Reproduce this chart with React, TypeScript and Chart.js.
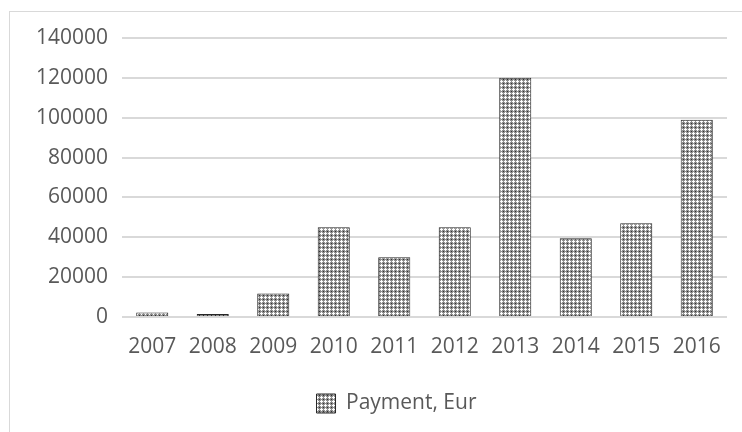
import React, { useEffect, useRef } from "react";
import { Chart, registerables } from "chart.js";

Chart.register(...registerables);

const years = ["2007", "2008", "2009", "2010", "2011", "2012", "2013", "2014", "2015", "2016"];
const payments = [2200, 1500, 11800, 45000, 30000, 45000, 120000, 39500, 47000, 99000];
const seriesLabel = "Payment, Eur";
const yTicks = [0, 20000, 40000, 60000, 80000, 100000, 120000, 140000];

function makePattern(): CanvasPattern | string {
  const c = document.createElement("canvas");
  c.width = 4;
  c.height = 4;
  const g = c.getContext("2d");
  if (!g) return "#999";
  g.fillStyle = "#8e8e8e";
  g.fillRect(0, 0, 4, 4);
  g.fillStyle = "#ffffff";
  g.fillRect(1, 0, 1, 3);
  g.fillRect(0, 1, 3, 1);
  g.fillStyle = "#303030";
  g.fillRect(3, 3, 1, 1);
  const p = g.createPattern(c, "repeat");
  return p || "#999";
}

const shiftLegend = {
  id: "shiftLegend",
  afterLayout(chart: any) {
    const l = chart.legend;
    if (l) {
      l.left += 33;
      l.right += 33;
    }
  },
};

export default function App() {
  const ref = useRef<HTMLCanvasElement | null>(null);
  useEffect(() => {
    document.body.style.margin = "0";
    const canvas = ref.current;
    if (!canvas) return;
    const pattern = makePattern();
    const font = { family: "'Open Sans', sans-serif", size: 21 };
    const chart = new Chart(canvas, {
      type: "bar",
      data: {
        labels: years,
        datasets: [
          {
            label: seriesLabel,
            data: payments,
            backgroundColor: pattern as any,
            borderColor: "#262626",
            borderWidth: 1,
            categoryPercentage: 1,
            barPercentage: 0.53,
          },
        ],
      },
      plugins: [shiftLegend],
      options: {
        animation: false,
        responsive: false,
        maintainAspectRatio: false,
        layout: { padding: { left: 0, right: 15, top: 38, bottom: 8 } },
        plugins: {
          tooltip: { enabled: false },
          legend: {
            position: "bottom",
            labels: {
              color: "#595959",
              font,
              boxWidth: 19,
              boxHeight: 19,
              padding: 12,
            },
          },
        },
        scales: {
          x: {
            grid: { display: false },
            border: { display: false },
            ticks: { color: "#595959", font, padding: 9 },
            afterFit: (s: any) => {
              s.height = 64;
            },
          },
          y: {
            min: 0,
            max: 140000,
            afterBuildTicks: (s: any) => {
              s.ticks = yTicks.map((v) => ({ value: v }));
            },
            grid: { color: "#d9d9d9", lineWidth: 2, drawTicks: false },
            border: { display: false },
            ticks: {
              color: "#595959",
              font,
              padding: 14,
              callback: (v: any) => String(v),
            },
            afterFit: (s: any) => {
              s.width = 122;
            },
          },
        },
      },
    });
    return () => chart.destroy();
  }, []);
  return (
    <div style={{ position: "relative", width: 742, height: 432, background: "#fff" }}>
      <div
        style={{
          position: "absolute",
          left: 9,
          top: 11,
          width: 733,
          height: 421,
          borderLeft: "1px solid #d9d9d9",
          borderTop: "1px solid #d9d9d9",
        }}
      />
      <canvas ref={ref} width={742} height={432} style={{ position: "absolute", left: 0, top: 0 }} />
    </div>
  );
}
